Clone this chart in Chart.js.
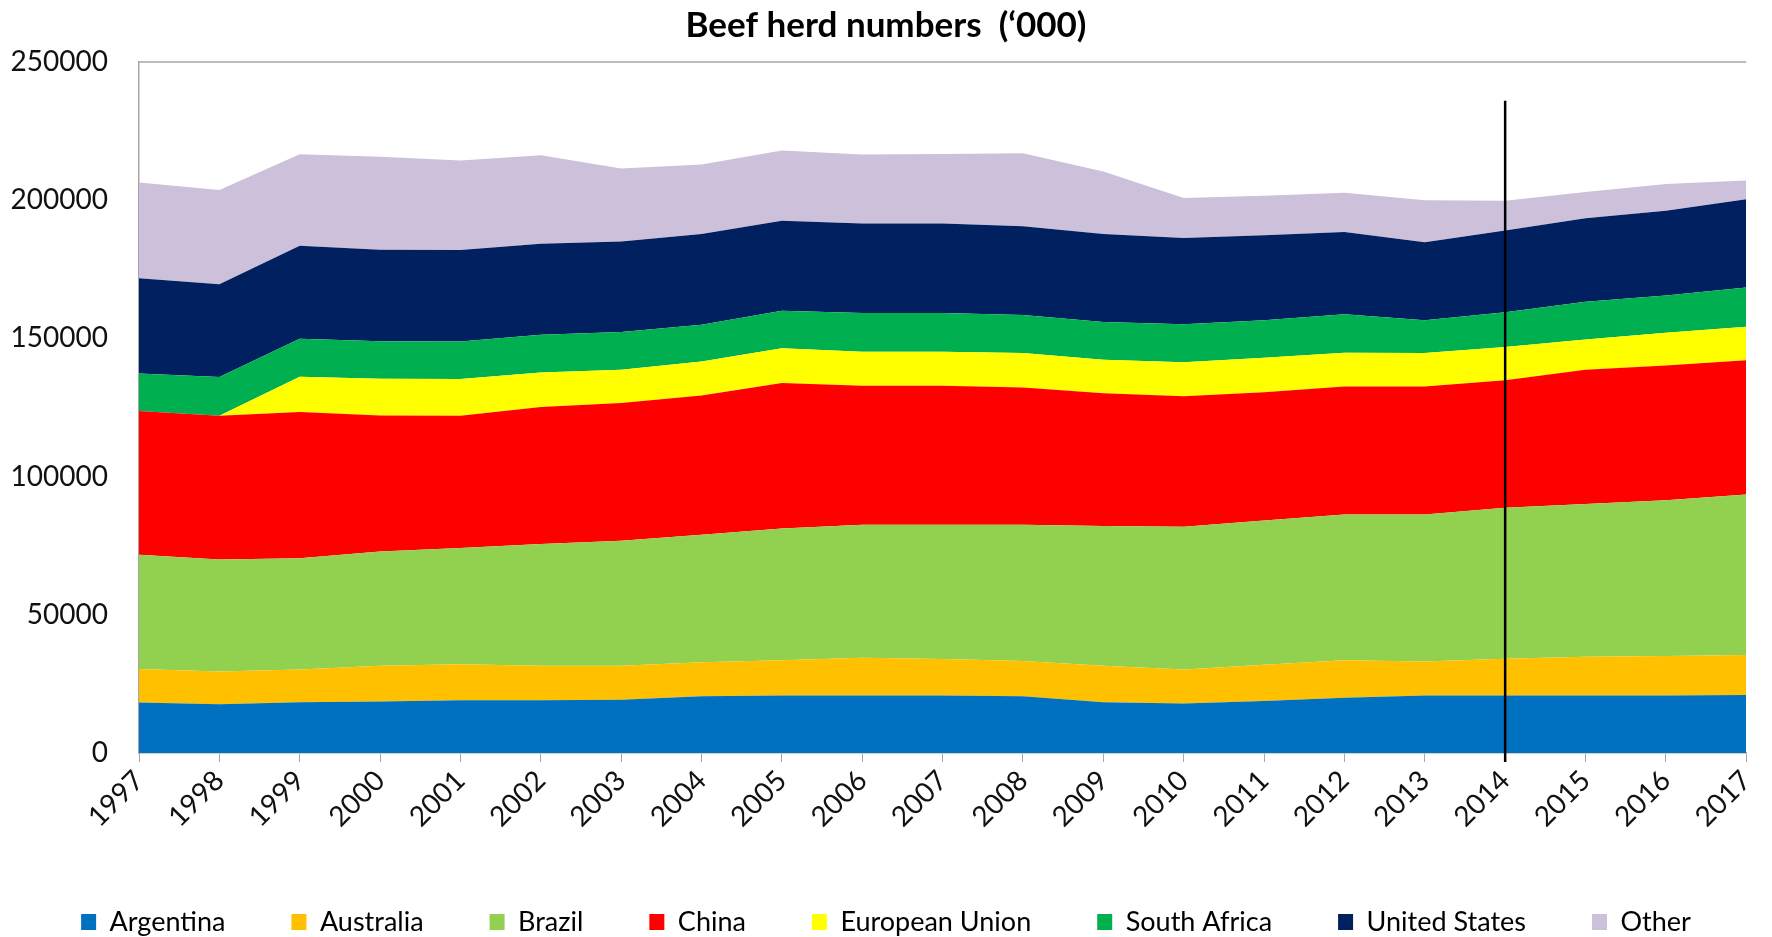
<!DOCTYPE html>
<html>
<head>
<meta charset="utf-8">
<script src="https://cdn.jsdelivr.net/npm/chart.js@4/dist/chart.umd.min.js"></script>
<style>
  html, body { margin: 0; padding: 0; background: #ffffff; }
  #wrap { width: 1772px; height: 937px; position: relative; }
</style>
</head>
<body>
<div id="wrap"><canvas id="c"></canvas></div>
<script>
const years = ['1997','1998','1999','2000','2001','2002','2003','2004','2005','2006','2007','2008','2009','2010','2011','2012','2013','2014','2015','2016','2017'];

const argentina = [18300,17600,18400,18600,19100,19100,19300,20500,20800,20800,20800,20500,18400,17900,18800,20000,20800,20800,20800,20800,21000];
const australia = [12100,11900,11800,13000,13000,12500,12300,12300,12800,13700,13200,12800,13200,12300,13100,13600,12300,13300,14000,14300,14500];
const brazil = [41300,40500,40300,41300,42100,44000,45200,46200,47600,48100,48600,49300,50500,51700,52200,52700,53200,54600,55300,56300,58000];
const china = [52000,52000,52900,49200,47800,49600,49800,50300,52700,50300,50300,49600,48100,47200,46400,46300,46300,46200,48600,48800,48600];
const europeanUnion = [0,0,12700,13300,13300,12500,12100,12300,12500,12300,12300,12500,12100,12300,12500,12200,12100,12000,10900,11800,12100];
const southAfrica = [13600,14000,13800,13600,13600,13600,13600,13300,13600,14000,14000,13800,13600,13700,13600,13900,11900,12600,13700,13500,14200];
const unitedStates = [34500,33600,33600,33100,33100,32950,32800,32900,32600,32400,32400,32100,31900,31200,30700,29800,28200,29500,30200,30700,31900];
const other = [34600,34100,33100,33600,32400,32000,26400,25100,25400,24900,25100,26400,22600,14500,14300,14200,15200,10800,9500,9700,6800];

const yTicks = [0, 50000, 100000, 150000, 200000, 250000];
const markerYear = '2014';
const markerTop = 236000;

const seriesNames = ['Argentina','Australia','Brazil','China','European Union','South Africa','United States','Other'];
const seriesValues = [argentina, australia, brazil, china, europeanUnion, southAfrica, unitedStates, other];
const seriesColors = ['#0070C0','#FFC000','#92D050','#FF0000','#FFFF00','#00B050','#002060','#CCC0DA'];

Chart.defaults.font.family = 'Lato, "Open Sans", sans-serif';
Chart.defaults.color = '#111111';

const datasets = seriesNames.map((name, i) => ({
  label: name,
  data: seriesValues[i],
  backgroundColor: seriesColors[i],
  borderColor: seriesColors[i],
  borderWidth: 0,
  pointRadius: 0,
  pointHoverRadius: 0,
  tension: 0,
  fill: i === 0 ? 'origin' : '-1'
}));

const framePlugin = {
  id: 'frame',
  afterDatasetsDraw(chart) {
    const ctx = chart.ctx;
    const a = chart.chartArea;
    const xs = chart.scales.x, ys = chart.scales.y;
    ctx.save();
    ctx.strokeStyle = '#a6a6a6';
    ctx.lineWidth = 1.5;
    ctx.beginPath();
    ctx.moveTo(a.left, a.top);
    ctx.lineTo(a.right, a.top);
    ctx.stroke();
    const x = xs.getPixelForValue(years.indexOf(markerYear));
    ctx.strokeStyle = '#000000';
    ctx.lineWidth = 2.5;
    ctx.beginPath();
    ctx.moveTo(x, ys.getPixelForValue(markerTop));
    ctx.lineTo(x, a.bottom + 9);
    ctx.stroke();
    ctx.restore();
  }
};

new Chart(document.getElementById('c'), {
  type: 'line',
  data: { labels: years, datasets },
  options: {
    responsive: true,
    maintainAspectRatio: false,
    animation: false,
    layout: { padding: { left: 0, right: 0, top: 0, bottom: 0 } },
    plugins: {
      title: {
        display: true,
        text: 'Beef herd numbers  (\u2018000)',
        color: '#000000',
        font: { size: 35, weight: 'bold' },
        padding: { top: 5, bottom: 15 }
      },
      legend: {
        position: 'bottom',
        maxHeight: 94.5,
        labels: {
          boxWidth: 15,
          boxHeight: 16,
          padding: 66,
          color: '#000000',
          font: { size: 27 }
        }
      },
      tooltip: { enabled: false }
    },
    scales: {
      x: {
        type: 'category',
        offset: false,
        grid: { display: true, drawOnChartArea: false, drawTicks: true, tickLength: 9, color: '#a6a6a6', offset: false },
        border: { display: true, color: '#a6a6a6', width: 1.5 },
        ticks: { maxRotation: 45, minRotation: 45, padding: 2, autoSkip: false, color: '#111111', font: { size: 28 } },
        afterFit(scale) { scale.height = 89.5; }
      },
      y: {
        stacked: true,
        min: 0,
        max: 250000,
        grid: { display: false, drawTicks: false },
        border: { display: true, color: '#a6a6a6', width: 1.5 },
        afterBuildTicks(scale) { scale.ticks = yTicks.map(v => ({ value: v })); },
        ticks: { padding: 31, color: '#111111', font: { size: 28 }, callback: v => String(v) },
        afterFit(scale) { scale.width = 139; }
      },
      yRight: {
        position: 'right',
        display: true,
        grid: { display: false, drawTicks: false },
        border: { display: false },
        ticks: { display: false },
        afterFit(scale) { scale.width = 19; }
      }
    }
  },
  plugins: [framePlugin]
});
</script>
</body>
</html>
